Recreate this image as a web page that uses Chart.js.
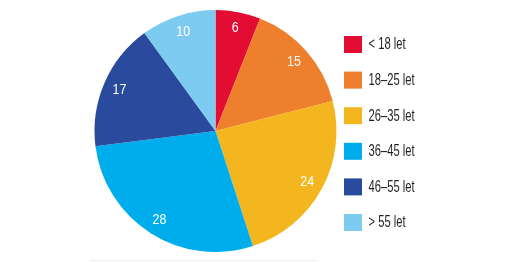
<!DOCTYPE html>
<html>
<head>
<meta charset="utf-8">
<script src="https://cdn.jsdelivr.net/npm/chart.js@4"></script>
<style>
html,body{margin:0;padding:0;background:#fff;}
#wrap{position:relative;width:510px;height:262px;}
</style>
</head>
<body>
<div id="wrap"><canvas id="c" width="510" height="262"></canvas></div>
<script>
const categories = ['< 18 let', '18–25 let', '26–35 let', '36–45 let', '46–55 let', '> 55 let'];
const values = [6, 15, 24, 28, 17, 10];
const colors = ['#e30c32', '#ed7f2d', '#f4b61f', '#00adec', '#2a4b9d', '#7ecbf1'];

const FONT = "'Liberation Sans', Arial, sans-serif";

function condensedText(ctx, text, x, y, sx) {
  ctx.save();
  ctx.translate(x, y);
  ctx.scale(sx, 1);
  ctx.fillText(text, 0, 0);
  ctx.restore();
}

const labelPlugin = {
  id: 'sliceLabels',
  afterDatasetsDraw(chart) {
    const ctx = chart.ctx;
    const meta = chart.getDatasetMeta(0);
    ctx.save();
    ctx.fillStyle = '#ffffff';
    ctx.font = '15.5px ' + FONT;
    ctx.textAlign = 'center';
    ctx.textBaseline = 'middle';
    meta.data.forEach((arc, i) => {
      const mid = (arc.startAngle + arc.endAngle) / 2;
      const r = arc.outerRadius * 0.865;
      const x = arc.x + Math.cos(mid) * r;
      const y = arc.y + Math.sin(mid) * r;
      condensedText(ctx, String(values[i]), x, y, 0.8);
    });
    ctx.restore();
  }
};

const legendPlugin = {
  id: 'sideLegend',
  afterDraw(chart) {
    const ctx = chart.ctx;
    ctx.save();
    ctx.font = '16px ' + FONT;
    ctx.textBaseline = 'middle';
    ctx.textAlign = 'left';
    categories.forEach((lab, i) => {
      const cy = 44.5 + i * 35.6;
      ctx.fillStyle = colors[i];
      ctx.fillRect(344, cy - 8.5, 18, 17);
      ctx.fillStyle = '#231f20';
      condensedText(ctx, lab, 368.5, cy + 0.5, 0.7);
    });
    // faint baseline rule
    ctx.strokeStyle = '#ececec';
    ctx.lineWidth = 1;
    ctx.beginPath();
    ctx.moveTo(90, 260.5);
    ctx.lineTo(316, 260.5);
    ctx.stroke();
    ctx.restore();
  }
};

new Chart(document.getElementById('c'), {
  type: 'pie',
  data: {
    labels: categories,
    datasets: [{
      data: values,
      backgroundColor: colors,
      borderWidth: 0
    }]
  },
  options: {
    responsive: false,
    animation: false,
    layout: { padding: { left: 94.5, right: 173.5, top: 10, bottom: 10 } },
    plugins: {
      legend: { display: false },
      tooltip: { enabled: false }
    }
  },
  plugins: [labelPlugin, legendPlugin]
});
</script>
</body>
</html>
